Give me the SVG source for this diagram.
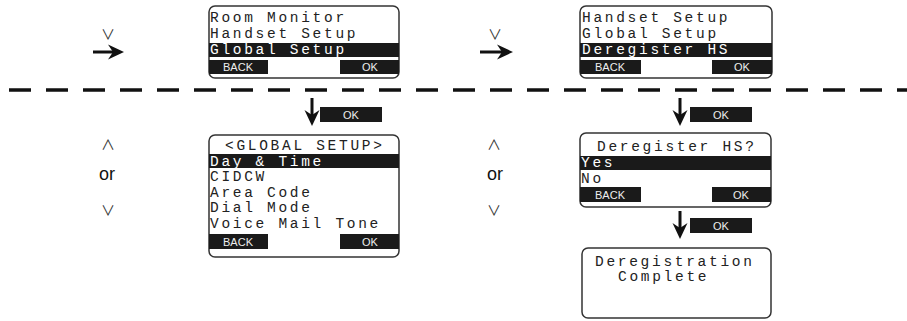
<svg xmlns="http://www.w3.org/2000/svg" width="907" height="321" viewBox="0 0 907 321">
<style>
.scr{fill:#fff;stroke:#333;stroke-width:1.5}
.bar{fill:#1a1a1a}
.lcd{font-family:"Liberation Mono","DejaVu Sans Mono",monospace;font-size:14.5px;letter-spacing:2.7px;fill:#222}
.inv{fill:#fff}
.key{font-family:"Liberation Sans","DejaVu Sans",sans-serif;font-size:11px;fill:#eee;text-anchor:middle}
.sym{font-family:"Noto Sans CJK SC","DejaVu Sans",sans-serif;font-size:14px;font-weight:400;fill:#333;text-anchor:middle}
.or{font-family:"Liberation Sans","Noto Sans",sans-serif;font-size:18px;fill:#111;text-anchor:middle}
.ln{stroke:#111;stroke-width:3;fill:none}
.hd{fill:#111}
</style>

<g id="connectors">
  <line x1="9" y1="90" x2="907" y2="90" stroke="#111" stroke-width="3.5" stroke-dasharray="22 15"/>
  <line class="ln" x1="93" y1="52" x2="116" y2="52"/>
  <path class="hd" d="M124,52 L108,44.5 L113,52 L108,59.5 Z"/>
  <line class="ln" x1="480" y1="52" x2="505" y2="52"/>
  <path class="hd" d="M513,52 L497,44.5 L502,52 L497,59.5 Z"/>
  <line class="ln" x1="312" y1="98" x2="312" y2="118"/>
  <path class="hd" d="M312,126 L304.5,110 L312,115 L319.5,110 Z"/>
  <line class="ln" x1="680" y1="98" x2="680" y2="118"/>
  <path class="hd" d="M680,126 L672.5,110 L680,115 L687.5,110 Z"/>
  <line class="ln" x1="680" y1="211" x2="680" y2="231"/>
  <path class="hd" d="M680,239 L672.5,223 L680,228 L687.5,223 Z"/>
  <rect class="bar" x="320" y="107" width="62" height="15"/>
  <text class="key" x="351" y="118.5">OK</text>
  <rect class="bar" x="690" y="107" width="62" height="15"/>
  <text class="key" x="721" y="118.5">OK</text>
  <rect class="bar" x="690" y="218" width="62" height="15"/>
  <text class="key" x="721" y="229.5">OK</text>
</g>

<g id="nav-left">
  <text class="sym" x="108" y="39">∨</text>
  <text class="sym" x="108" y="150">∧</text>
  <text class="or" x="107" y="180">or</text>
  <text class="sym" x="108" y="215">∨</text>
</g>
<g id="nav-right">
  <text class="sym" x="495" y="39">∨</text>
  <text class="sym" x="494" y="150">∧</text>
  <text class="or" x="495" y="180">or</text>
  <text class="sym" x="494" y="215">∨</text>
</g>

<g id="screen-menu1">
  <rect class="scr" x="209" y="6" width="190" height="72" rx="6"/>
  <text class="lcd" x="210" y="21.5">Room Monitor</text>
  <text class="lcd" x="210" y="37.5">Handset Setup</text>
  <rect class="bar" x="209" y="43" width="190" height="14"/>
  <text class="lcd inv" x="210" y="54">Global Setup</text>
  <rect class="bar" x="209" y="60" width="59" height="14"/>
  <text class="key" x="238" y="71">BACK</text>
  <rect class="bar" x="340" y="60" width="59" height="14"/>
  <text class="key" x="370" y="71">OK</text>
</g>

<g id="screen-menu2">
  <rect class="scr" x="580" y="6" width="192" height="72" rx="6"/>
  <text class="lcd" x="582" y="21.5">Handset Setup</text>
  <text class="lcd" x="582" y="37.5">Global Setup</text>
  <rect class="bar" x="580" y="43" width="192" height="14"/>
  <text class="lcd inv" x="582" y="54">Deregister HS</text>
  <rect class="bar" x="580" y="60" width="61" height="14"/>
  <text class="key" x="610" y="71">BACK</text>
  <rect class="bar" x="712" y="60" width="60" height="14"/>
  <text class="key" x="742" y="71">OK</text>
</g>

<g id="screen-global">
  <rect class="scr" x="209" y="135" width="190" height="122" rx="6"/>
  <text class="lcd" x="225" y="150">&lt;GLOBAL SETUP&gt;</text>
  <rect class="bar" x="209" y="154" width="190" height="14"/>
  <text class="lcd inv" x="210" y="165.5">Day &amp; Time</text>
  <text class="lcd" x="210" y="181">CIDCW</text>
  <text class="lcd" x="210" y="196.5">Area Code</text>
  <text class="lcd" x="210" y="212">Dial Mode</text>
  <text class="lcd" x="210" y="227.5">Voice Mail Tone</text>
  <rect class="bar" x="209" y="234" width="59" height="15"/>
  <text class="key" x="238" y="245.5">BACK</text>
  <rect class="bar" x="340" y="234" width="59" height="15"/>
  <text class="key" x="370" y="245.5">OK</text>
</g>

<g id="screen-dereg">
  <rect class="scr" x="580" y="133" width="191" height="74" rx="6"/>
  <text class="lcd" x="597" y="151">Deregister HS?</text>
  <rect class="bar" x="580" y="156" width="191" height="14"/>
  <text class="lcd inv" x="581" y="167">Yes</text>
  <text class="lcd" x="581" y="183">No</text>
  <rect class="bar" x="580" y="187" width="61" height="15"/>
  <text class="key" x="610" y="198.5">BACK</text>
  <rect class="bar" x="712" y="187" width="59" height="15"/>
  <text class="key" x="741" y="198.5">OK</text>
</g>

<g id="screen-complete">
  <rect class="scr" x="582" y="248" width="189" height="70" rx="6"/>
  <text class="lcd" x="595" y="266">Deregistration</text>
  <text class="lcd" x="618" y="281">Complete</text>
</g>
</svg>
